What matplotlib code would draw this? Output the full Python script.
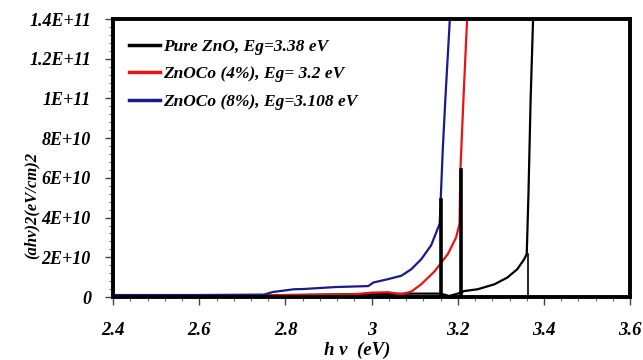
import numpy as np
import matplotlib
matplotlib.use("Agg")
import matplotlib.pyplot as plt
from matplotlib.ticker import MultipleLocator

# Data (y in units of 1E10)
x_zno = [2.4, 2.6, 2.8, 3.0, 3.1, 3.16, 3.18, 3.2, 3.215, 3.246, 3.285, 3.315,
         3.338, 3.354, 3.36, 3.364, 3.369, 3.375]
y_zno = [0.05, 0.06, 0.1, 0.15, 0.17, 0.17, 0.05, 0.17, 0.3, 0.39, 0.64, 0.98,
         1.4, 1.9, 2.17, 5.2, 9.95, 14.2]

x_co4 = [2.4, 2.6, 2.76, 2.84, 2.95, 3.0, 3.038, 3.069, 3.092, 3.115, 3.146,
         3.177, 3.196, 3.204, 3.206, 3.213, 3.222]
y_co4 = [0.03, 0.04, 0.09, 0.1, 0.12, 0.22, 0.24, 0.14, 0.27, 0.64, 1.29,
         2.17, 3.0, 3.7, 6.4, 9.95, 14.2]

x_co8 = [2.4, 2.6, 2.75, 2.77, 2.82, 2.84, 2.915, 2.992, 3.004, 3.038, 3.069,
         3.092, 3.115, 3.138, 3.158, 3.165, 3.171, 3.182]
y_co8 = [0.1, 0.1, 0.12, 0.25, 0.39, 0.4, 0.5, 0.55, 0.73, 0.9, 1.07,
         1.4, 1.9, 2.6, 3.7, 7.4, 9.95, 14.2]

# extrapolation (tangent) segments down to the axis
tan_x = [3.162, 3.208, 3.362]
tan_top = [4.87, 6.4, 2.17]
tan_lw = [2.6, 2.6, 1.2]

labels = ["Pure ZnO, Eg=3.38 eV", "ZnOCo (4%), Eg= 3.2 eV", "ZnOCo (8%), Eg=3.108 eV"]
colors = ["black", "#ee1111", "#1a1a8c"]

y_ticks = [0, 2, 4, 6, 8, 10, 12, 14]
y_tick_labels = ["0", "2E+10", "4E+10", "6E+10", "8E+10", "1E+11", "1.2E+11", "1.4E+11"]
x_ticks = [2.4, 2.6, 2.8, 3.0, 3.2, 3.4, 3.6]
x_tick_labels = ["2.4", "2.6", "2.8", "3", "3.2", "3.4", "3.6"]

font = dict(family="Liberation Serif", weight="bold", style="italic")

fig = plt.figure(figsize=(6.43, 3.6), dpi=100)
ax = fig.add_axes([0.176, 0.175, 0.804, 0.772])

ax.plot(x_zno, y_zno, color=colors[0], lw=1.6, label=labels[0])
ax.plot(x_co4, y_co4, color=colors[1], lw=1.6, label=labels[1])
ax.plot(x_co8, y_co8, color=colors[2], lw=1.6, label=labels[2])
for xv, top, lw in zip(tan_x, tan_top, tan_lw):
    ax.plot([xv, xv], [0, top], color="black", lw=lw)

ax.set_xlim(2.4, 3.6)
ax.set_ylim(0, 14)

ax.set_xticks(x_ticks)
ax.set_xticklabels(x_tick_labels, fontsize=13.5, **font)
ax.set_yticks(y_ticks)
ax.set_yticklabels(y_tick_labels, fontsize=13, **font)
ax.xaxis.set_minor_locator(MultipleLocator(0.04))
ax.yaxis.set_minor_locator(MultipleLocator(0.4))
ax.tick_params(which="major", direction="out", length=6, width=1, color="#444444")
ax.tick_params(which="minor", direction="out", length=3, width=0.8, color="#666666")
ax.tick_params(axis="x", which="major", pad=12)
ax.tick_params(axis="y", which="major", pad=10)

for sp in ax.spines.values():
    sp.set_linewidth(2.8)
    sp.set_color("black")

fig.text(357 / 643, 0.003, "h ν  (eV)", fontsize=13.5, ha="center", va="bottom", **font)
fig.text(32 / 643, 1 - 205 / 360, "(ahv)2(eV/cm)2", fontsize=12, rotation=90,
         ha="center", va="center", **font)

leg = ax.legend(loc="upper left", bbox_to_anchor=(0.0, 0.985), frameon=False,
                handlelength=1.8, handletextpad=0.15, labelspacing=0.65,
                prop=dict(family="Liberation Serif", weight="bold", style="italic", size=12.5))
for line in leg.get_lines():
    line.set_linewidth(2.5)

fig.savefig("out.png", dpi=100)
